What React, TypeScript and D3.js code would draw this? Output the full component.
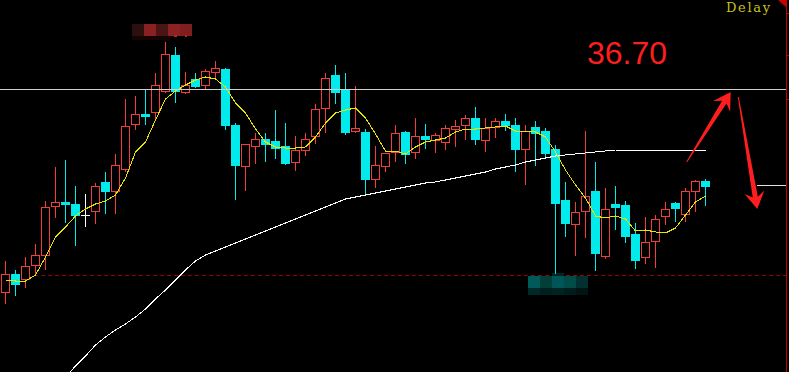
import React from "react";
import * as d3 from "d3";

// ---- data ----
const opens = [34.67,34.85,34.80,34.94,35.04,35.53,35.57,35.55,35.44,35.48,35.77,35.68,35.90,36.35,36.45,36.47,36.68,37.04,36.67,36.80,36.74,36.87,36.90,36.34,35.93,36.13,36.20,36.18,36.13,35.97,36.09,36.23,36.51,36.84,36.70,36.28,36.27,35.80,35.93,36.07,36.27,36.07,36.23,36.19,36.17,36.30,36.34,36.41,36.19,36.32,36.38,36.34,36.10,36.32,36.28,36.10,35.59,35.35,35.48,35.68,35.03,35.55,35.54,35.25,35.02,35.18,35.43,35.56,35.45,35.68,35.78];
const highs = [34.98,34.89,35.02,35.15,35.58,35.92,35.99,35.73,35.65,35.76,35.87,36.05,36.60,36.63,36.70,36.86,37.17,37.12,36.87,36.86,36.90,36.98,36.91,36.36,36.15,36.26,36.26,36.49,36.36,36.23,36.26,36.55,36.86,36.94,36.86,36.73,36.30,36.13,36.06,36.34,36.28,36.41,36.35,36.26,36.34,36.39,36.44,36.52,36.41,36.41,36.45,36.41,36.34,36.38,36.31,36.14,35.77,35.57,36.28,35.97,35.71,35.73,35.58,35.36,35.42,35.44,35.57,35.57,35.71,35.79,35.80];
const lows = [34.56,34.64,34.72,34.84,34.90,35.42,35.37,35.14,35.33,35.36,35.46,35.46,35.88,36.30,36.35,36.39,36.67,36.57,36.66,36.72,36.70,36.82,36.30,35.60,35.69,35.96,35.98,36.01,35.95,35.89,36.04,36.16,36.27,36.56,36.25,36.27,35.64,35.72,35.88,35.98,35.96,36.01,36.11,36.07,36.10,36.13,36.20,36.15,36.08,36.22,36.29,35.88,35.75,35.94,36.02,34.86,35.23,35.04,35.22,34.89,35.01,35.30,35.17,34.91,34.96,34.92,35.35,35.38,35.38,35.48,35.54];
const closes = [34.85,34.75,34.93,35.04,35.52,35.57,35.55,35.44,35.44,35.73,35.68,35.94,36.33,36.45,36.43,36.74,37.05,36.68,36.74,36.73,36.88,36.91,36.34,35.94,36.15,36.20,36.15,36.11,35.96,36.09,36.20,36.50,36.81,36.67,36.27,36.31,35.80,35.94,36.06,36.26,36.05,36.23,36.20,36.24,36.31,36.33,36.41,36.20,36.31,36.38,36.34,36.10,36.28,36.26,36.06,35.56,35.36,35.47,35.63,35.06,35.50,35.52,35.23,34.99,35.17,35.40,35.50,35.51,35.68,35.78,35.73];
const maShort = [34.79,34.78,34.78,34.84,35.02,35.22,35.32,35.43,35.50,35.55,35.58,35.64,35.81,36.07,36.17,36.39,36.60,36.68,36.74,36.79,36.82,36.80,36.72,36.56,36.46,36.30,36.17,36.12,36.11,36.11,36.12,36.22,36.36,36.46,36.49,36.51,36.41,36.25,36.08,36.08,36.05,36.12,36.17,36.19,36.21,36.27,36.30,36.30,36.31,36.32,36.33,36.28,36.28,36.27,36.22,36.07,35.89,35.74,35.61,35.43,35.41,35.43,35.40,35.28,35.29,35.27,35.26,35.31,35.44,35.57,35.63];
const maLong: (number | null)[] = [null,null,null,null,null,null,33.82,33.93,34.03,34.14,34.22,34.29,34.35,34.42,34.50,34.60,34.69,34.79,34.89,34.98,35.04,35.08,35.12,35.16,35.20,35.24,35.28,35.32,35.36,35.40,35.44,35.48,35.52,35.56,35.60,35.62,35.64,35.66,35.68,35.70,35.72,35.74,35.76,35.77,35.79,35.81,35.83,35.85,35.87,35.90,35.92,35.94,35.97,35.99,36.01,36.03,36.04,36.05,36.06,36.07,36.08,36.09,36.09,36.09,36.09,36.09,36.09,36.09,36.09,36.09,36.09];
const levelMain = 36.70;
const levelShort = 35.74;
const levelDashed = 34.84;
const axisTicks = [37.46, 37.04, 36.60];
const priceLabel = "36.70";
const delayLabel = "Delay";
// arrows in data space: [fromIndex, fromPrice, toIndex, toPrice]
const arrows = [
  [68.12, 35.97, 72.52, 36.67],
  [73.28, 36.62, 75.18, 35.50],
];
const blurTop = ["#2e0f0f", "#8a2020", "#4a1515", "#8a2222", "#7e1e1e"];
const blurBottom = ["#005a5a", "#004038", "#005656", "#004c48", "#003030"];
const blurBottom2 = ["#002828", "#002020", "#002424", "#001c1c", "#001414"];

const W = 789;
const H = 372;
const UP = "#f43c3c";
const DOWN = "#00ecec";

function arrowPoints(x1: number, y1: number, x2: number, y2: number) {
  const dx = x2 - x1, dy = y2 - y1;
  const len = Math.hypot(dx, dy);
  const ux = dx / len, uy = dy / len;
  const px = -uy, py = ux;
  const headLen = 17, notch = 12, halfW = 10, tailW = 0.5, neckW = 2.6;
  const nx = x2 - ux * notch, ny = y2 - uy * notch;
  const bx = x2 - ux * headLen, by = y2 - uy * headLen;
  const pts = [
    [x1 + px * tailW, y1 + py * tailW],
    [nx + px * neckW, ny + py * neckW],
    [bx + px * halfW, by + py * halfW],
    [x2, y2],
    [bx - px * halfW, by - py * halfW],
    [nx - px * neckW, ny - py * neckW],
    [x1 - px * tailW, y1 - py * tailW],
  ];
  return pts.map((p) => p.join(",")).join(" ");
}

export default function App() {
  const n = opens.length;
  const x = d3.scaleLinear().domain([0, n - 1]).range([5.5, 5.5 + 10 * (n - 1)]);
  const y = d3.scaleLinear().domain([37.59 - H / 100, 37.59]).range([H, 0]);
  const ry = (p: number) => Math.round(y(p));
  const right = 786.5;

  const lineShort = d3.line<number>().x((_, i) => x(i)).y((d) => y(d))(maShort) || "";
  const lineLong =
    d3
      .line<number | null>()
      .defined((d) => d !== null)
      .x((_, i) => x(i))
      .y((d) => y(d as number))(maLong) || "";

  const candles = opens.map((o, i) => {
    const c = closes[i], h = highs[i], l = lows[i];
    const cx = x(i);
    const yo = ry(o), yc = ry(c), yh = ry(h), yl = ry(l);
    if (c > o) {
      return (
        <g key={i} stroke={UP} fill="none" shapeRendering="crispEdges">
          {yh < yc && <line x1={cx} x2={cx} y1={yh} y2={yc} />}
          {yl > yo && <line x1={cx} x2={cx} y1={yo + 1} y2={yl + 1} />}
          <rect x={cx - 4} y={yc + 0.5} width={8} height={yo - yc} fill="#000" />
        </g>
      );
    } else if (c < o) {
      return (
        <g key={i} shapeRendering="crispEdges">
          <line x1={cx} x2={cx} y1={yh} y2={yl + 1} stroke={DOWN} />
          <rect x={cx - 4.5} y={yo} width={9} height={Math.max(1, yc - yo + 1)} fill={DOWN} />
        </g>
      );
    }
    return (
      <g key={i} stroke="#ffffff" shapeRendering="crispEdges">
        <line x1={cx} x2={cx} y1={yh} y2={yl + 1} />
        <line x1={cx - 4.5} x2={cx + 4.5} y1={yo + 0.5} y2={yo + 0.5} />
      </g>
    );
  });

  const topX = x(16) - 33.5;
  const topY = ry(highs[16]) - 18;
  const botX = x(55) - 27.5;
  const botY = ry(lows[55]) + 3;

  return (
    <svg
      width={W}
      height={H}
      style={{ position: "fixed", left: 0, top: 0, background: "#000", display: "block" }}
    >
      <rect x={0} y={0} width={W} height={H} fill="#000" />
      {/* dashed level */}
      <line
        x1={34}
        x2={right}
        y1={ry(levelDashed) + 0.5}
        y2={ry(levelDashed) + 0.5}
        stroke="#9a0000"
        strokeDasharray="4,3"
        shapeRendering="crispEdges"
      />
      {/* bottom blurred label */}
      {blurBottom.map((col, i) => (
        <rect key={"bb" + i} x={botX + i * 12} y={botY} width={12} height={12} fill={col} />
      ))}
      {blurBottom2.map((col, i) => (
        <rect key={"bb2" + i} x={botX + i * 12} y={botY + 12} width={12} height={7} fill={col} />
      ))}
      <rect x={botX + 24} y={botY - 3} width={12} height={3} fill="#002626" />
      {candles}
      <path d={lineLong} fill="none" stroke="#ffffff" strokeWidth={1} shapeRendering="crispEdges" />
      <path d={lineShort} fill="none" stroke="#e6e600" strokeWidth={1} shapeRendering="crispEdges" />
      {/* horizontal drawn lines */}
      <line
        x1={0}
        x2={right}
        y1={ry(levelMain) + 0.5}
        y2={ry(levelMain) + 0.5}
        stroke="#d0d0d0"
        shapeRendering="crispEdges"
      />
      <line
        x1={757}
        x2={right}
        y1={ry(levelShort) + 0.5}
        y2={ry(levelShort) + 0.5}
        stroke="#e0e0e0"
        shapeRendering="crispEdges"
      />
      {/* top blurred label */}
      {blurTop.map((col, i) => (
        <rect key={"bt" + i} x={topX + i * 12} y={topY} width={12} height={12} fill={col} />
      ))}
      <rect x={topX} y={topY + 12} width={38} height={4} fill="#140404" />
      <rect x={topX + 42} y={topY + 11} width={3} height={2} fill="#c82020" />
      <rect x={topX + 53} y={topY + 11} width={2} height={2} fill="#c82020" />
      {/* arrows */}
      {arrows.map((a, i) => (
        <polygon key={"ar" + i} points={arrowPoints(x(a[0]), y(a[1]), x(a[2]), y(a[3]))} fill="#ff1e1e" />
      ))}
      <text
        x={587}
        y={64}
        fill="#ff1e1e"
        fontFamily="'Liberation Sans', Arial, sans-serif"
        fontSize={32}
      >
        {priceLabel}
      </text>
      <text
        x={726}
        y={12}
        fill="#c8c41e"
        fontFamily="'DejaVu Serif', serif"
        fontSize={13}
        textLength={44}
        lengthAdjust="spacing"
      >
        {delayLabel}
      </text>
      {/* right border */}
      <line x1={right} x2={right} y1={0} y2={H} stroke="#c00000" shapeRendering="crispEdges" />
      {axisTicks.map((t, i) => (
        <line key={"t" + i} x1={right} x2={W} y1={ry(t) + 0.5} y2={ry(t) + 0.5} stroke="#c00000" shapeRendering="crispEdges" />
      ))}
      <polygon points={`778,0 787,0 787,8`} fill="#c80000" />
    </svg>
  );
}
